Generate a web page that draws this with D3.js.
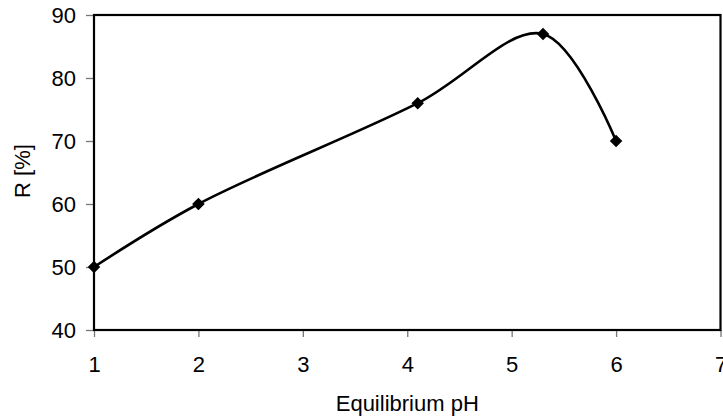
<!DOCTYPE html>
<html>
<head>
<meta charset="utf-8">
<script src="https://cdn.jsdelivr.net/npm/d3@7"></script>
<style>
  body { margin: 0; background: #fff; }
  text { font-family: Arial, "Liberation Sans", sans-serif; fill: #000; }
</style>
</head>
<body>
<svg id="chart"></svg>
<script>
// data
var phValues = [1, 2, 4.1, 5.3, 6];
var removal = [50, 60, 76, 87, 70];
var xTicks = [1, 2, 3, 4, 5, 6, 7];
var yTicks = [40, 50, 60, 70, 80, 90];

var totalW = 723, totalH = 416;
var margin = {top: 15, right: 2, bottom: 86, left: 94},
    width = totalW - margin.left - margin.right,
    height = totalH - margin.top - margin.bottom;

var svg = d3.select("#chart")
    .attr("width", totalW)
    .attr("height", totalH)
  .append("g")
    .attr("transform", "translate(" + margin.left + "," + margin.top + ")");

var x = d3.scaleLinear().domain([1, 7]).range([0, width - 0.5]);
var y = d3.scaleLinear().domain([40, 90]).range([height, 0]);

var points = phValues.map(function(d, i) { return {ph: d, r: removal[i]}; });

/** axes **/
var xAxis = d3.axisBottom(x).tickValues(xTicks).tickSize(7).tickPadding(19).tickFormat(d3.format("d"));
var yAxis = d3.axisLeft(y).tickValues(yTicks).tickSize(8).tickPadding(10).tickFormat(d3.format("d"));

var gx = svg.append("g")
    .attr("transform", "translate(0," + height + ")")
    .call(xAxis);
var gy = svg.append("g").call(yAxis);

[gx, gy].forEach(function(g) {
  g.select(".domain").remove();
  g.selectAll(".tick line").attr("stroke", "#777").attr("stroke-width", 1.3);
  g.selectAll(".tick text").style("font-size", "22px").attr("fill", "#000");
});
gx.selectAll(".tick text").attr("dy", "0.71em");

/** plot frame **/
svg.append("rect")
    .attr("x", 0)
    .attr("y", 0)
    .attr("width", width - 0.5)
    .attr("height", height)
    .attr("fill", "none")
    .attr("stroke", "#000")
    .attr("stroke-width", 2.2);

/** axis labels **/
svg.append("text")
    .attr("x", (x(1) + x(7)) / 2)
    .attr("y", height + 81)
    .style("text-anchor", "middle")
    .style("font-size", "22px")
    .text("Equilibrium pH");

svg.append("text")
    .attr("transform", "translate(" + (22 - margin.left) + "," + 156 + ") rotate(-90)")
    .attr("dy", "0.35em")
    .style("text-anchor", "middle")
    .style("font-size", "22px")
    .text("R [%]");

/** smoothed line + markers **/
var line = d3.line()
    .x(function(d) { return x(d.ph); })
    .y(function(d) { return y(d.r); })
    .curve(d3.curveCatmullRom.alpha(0.5));

svg.append("path")
    .datum(points)
    .attr("d", line)
    .attr("fill", "none")
    .attr("stroke", "#000")
    .attr("stroke-width", 2.6);

svg.selectAll(".dot")
    .data(points)
    .enter()
    .append("path")
    .attr("class", "dot")
    .attr("d", d3.symbol().type(d3.symbolDiamond2).size(100))
    .attr("transform", function(d) { return "translate(" + x(d.ph) + "," + y(d.r) + ")"; })
    .attr("fill", "#000");
</script>
</body>
</html>
